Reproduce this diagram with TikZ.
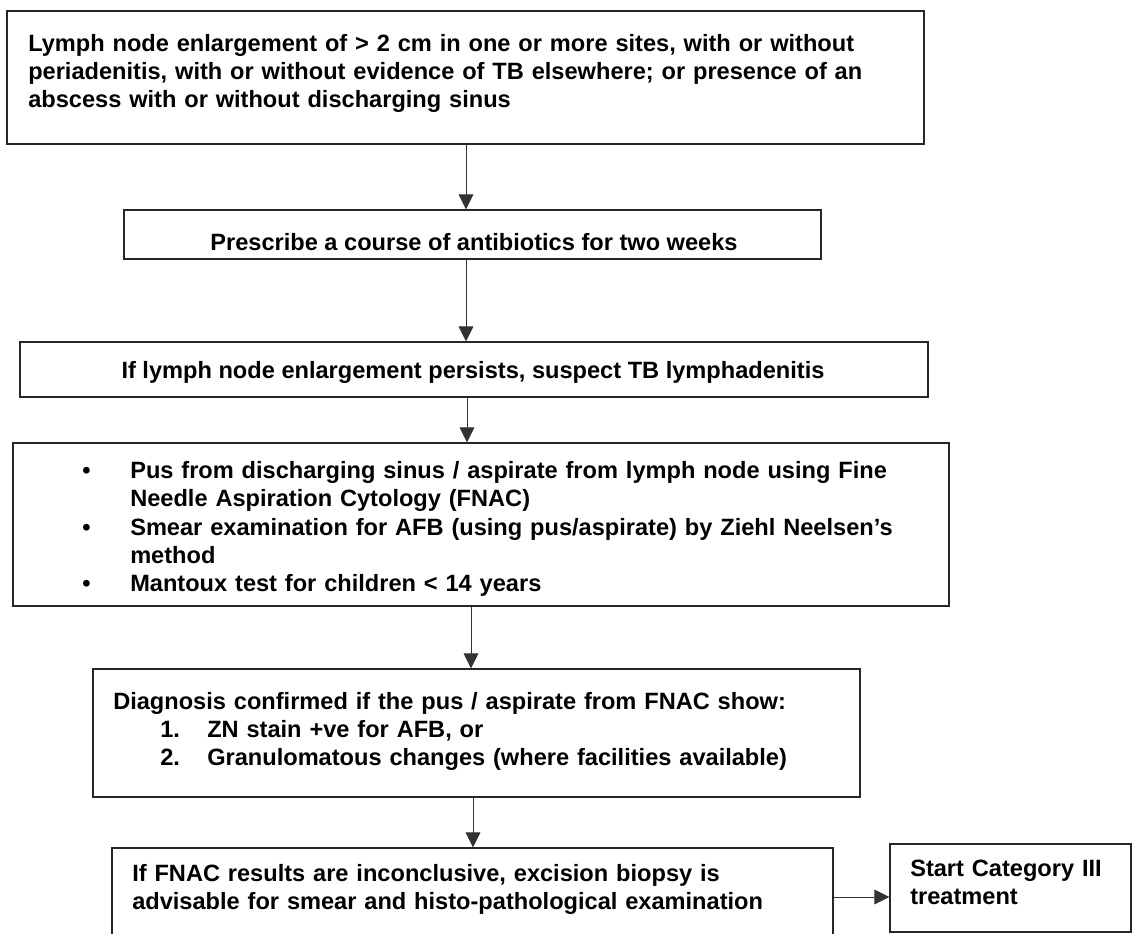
\documentclass[tikz,border=0pt]{standalone}
\usepackage{fontspec}
\setmainfont{Liberation Sans}
\usetikzlibrary{arrows.meta,fit}

\begin{document}
\begin{tikzpicture}[x=0.75pt,y=-0.75pt,
  box/.style={draw=black!85, line width=0.9pt, inner sep=0pt},
  txt/.style={anchor=base west, inner sep=0pt, text width=#1, align=left,
    font=\bfseries\fontsize{17.7}{21}\selectfont},
  txt/.default=700pt,
  ctxt/.style={anchor=base, inner sep=0pt,
    font=\bfseries\fontsize{17.7}{21}\selectfont},
  arr/.style={draw=black!80, line width=0.6pt,
    -{Triangle[width=11pt,length=11.25pt]}}]
\useasboundingbox (0,0) rectangle (1132,934);
\clip (0,0) rectangle (1132,934);

% boxes
\node[box, fit={(7,11) (924,144)}] (b1) {};
\node[box, fit={(124,210) (821,259)}] (b2) {};
\node[box, fit={(20,342) (928,397)}] (b3) {};
\node[box, fit={(13,443) (949,606)}] (b4) {};
\node[box, fit={(93,669) (860,797)}] (b5) {};
\node[box, fit={(112,848) (833,950)}] (b6) {};
\node[box, fit={(890,844) (1131,932)}] (b7) {};

% texts
\node[txt] (t1) at (28,51.5) {Lymph node enlargement of > 2 cm in one or more sites, with or without\\
periadenitis, with or without evidence of TB elsewhere; or presence of an\\
abscess with or without discharging sinus};
\node[ctxt] (t2) at (474,250.5) {Prescribe a course of antibiotics for two weeks};
\node[ctxt] (t3) at (473,378.5) {If lymph node enlargement persists, suspect TB lymphadenitis};

\node[txt=20pt] (p1) at (82,478.5) {\textbullet};
\node[txt] (q1) at (130,478.5) {Pus from discharging sinus / aspirate from lymph node using Fine\\
Needle Aspiration Cytology (FNAC)};
\node[txt=20pt] (p2) at (82,535) {\textbullet};
\node[txt] (q2) at (130,535) {Smear examination for AFB (using pus/aspirate) by Ziehl Neelsen’s\\
method};
\node[txt=20pt] (p3) at (82,591.5) {\textbullet};
\node[txt] (q3) at (130,591.5) {Mantoux test for children < 14 years};

\node[txt] (d0) at (113,709.5) {Diagnosis confirmed if the pus / aspirate from FNAC show:};
\node[txt=30pt] (n1) at (160,737.5) {1.};
\node[txt] (d1) at (207,737.5) {ZN stain +ve for AFB, or};
\node[txt=30pt] (n2) at (160,765.5) {2.};
\node[txt] (d2) at (207,765.5) {Granulomatous changes (where facilities available)};

\node[txt] (t6) at (132,881.5) {If FNAC results are inconclusive, excision biopsy is\\
advisable for smear and histo-pathological examination};
\node[txt=160pt] (t7) at (910,876.5) {Start Category III\\treatment};

% connectors
\coordinate (c1) at (466,0);
\coordinate (c3) at (467,0);
\coordinate (c4) at (471,0);
\coordinate (c5) at (473,0);
\coordinate (c6) at (0,897);
\draw[arr] (b1.south -| c1) -- (b2.north -| c1);
\draw[arr] (b2.south -| c1) -- (b3.north -| c1);
\draw[arr] (b3.south -| c3) -- (b4.north -| c3);
\draw[arr] (b4.south -| c4) -- (b5.north -| c4);
\draw[arr] (b5.south -| c5) -- (b6.north -| c5);
\draw[arr] (b6.east |- c6) -- (b7.west |- c6);
\end{tikzpicture}
\end{document}
